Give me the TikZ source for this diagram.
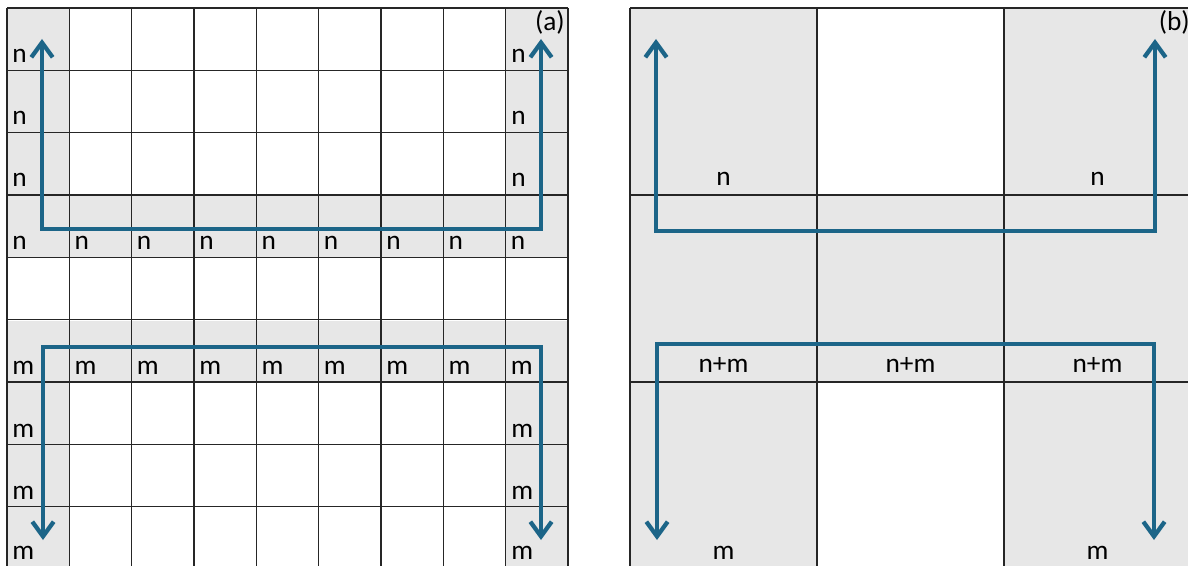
\documentclass[tikz,border=0pt]{standalone}
\usepackage{fontspec}
\setmainfont{Carlito}
\usepackage{xcolor}
\usetikzlibrary{arrows.meta,positioning,calc}
\definecolor{cellgray}{RGB}{231,231,231}
\definecolor{flowblue}{RGB}{28,101,136}

\begin{document}
\begin{tikzpicture}[x=0.75pt,y=-0.75pt,
  gridline/.style={draw=black!85,line width=1pt},
  lbl/.style={inner sep=0pt,anchor=base west,font=\fontsize{20.5}{24}\selectfont},
  mlbl/.style={inner sep=0pt,anchor=base,font=\fontsize{20.5}{24}\selectfont},
  tag/.style={inner sep=0pt,anchor=north east,font=\fontsize{20.5}{24}\selectfont},
  flow/.style={draw=flowblue,line width=3.2pt,<->},
  >={Straight Barb[length=11pt,width=16pt]}]
\useasboundingbox (0,0) rectangle (1188,566);
% (a) shaded cells
\fill[cellgray] (7,8) rectangle (69.33,257.33);
\fill[cellgray] (7,320.67) rectangle (69.33,570);
\fill[cellgray] (505.67,8) rectangle (568,257.33);
\fill[cellgray] (505.67,320.67) rectangle (568,570);
\fill[cellgray] (7,195) rectangle (568,257.33);
\fill[cellgray] (7,320.67) rectangle (568,383);
\foreach \i in {0,...,9} {
  \draw[gridline] ({7+\i*62.333},8) -- ({7+\i*62.333},570.7);
  \draw[gridline] (7,{8+\i*62.333}) -- (568,{8+\i*62.333});
}
% (a) labels
\foreach \j in {0,1,2} {
  \node[lbl] (an-l\j) at (12,{8+(\j+1)*62.333-8}) {n};
  \node[lbl] (an-r\j) at (511,{8+(\j+1)*62.333-8}) {n};
}
\foreach \i in {0,...,8} {
  \node[lbl] (an-\i) at ({12+\i*62.333},249.3) {n};
  \node[lbl] (am-\i) at ({12+\i*62.333},374.5) {m};
}
\foreach \j in {1,2} {
  \node[lbl] (am-l\j) at (12,{383+\j*62.333-8}) {m};
  \node[lbl] (am-r\j) at (511,{383+\j*62.333-8}) {m};
}
\node[lbl] (am-l3) at (12,559) {m};
\node[lbl] (am-r3) at (511,559) {m};
\node[tag] (tag-a) at (565,10) {(a)};
% (b) shaded cells
\fill[cellgray] (630,8) rectangle (817,575);
\fill[cellgray] (1004,8) rectangle (1191,575);
\fill[cellgray] (630,195) rectangle (1191,382);
\foreach \i in {0,...,3} {
  \draw[gridline] ({630+\i*187},8) -- ({630+\i*187},575);
  \draw[gridline] (630,{8+\i*187}) -- (1191,{8+\i*187});
}
% (b) labels
\node[mlbl] (bn-1) at (723.5,186) {n};
\node[mlbl] (bn-3) at (1097.5,186) {n};
\node[mlbl] (bnm-1) at (723.5,372.5) {n+m};
\node[mlbl] (bnm-2) at (910.5,372.5) {n+m};
\node[mlbl] (bnm-3) at (1097.5,372.5) {n+m};
\node[mlbl] (bm-1) at (723.5,559) {m};
\node[mlbl] (bm-3) at (1097.5,559) {m};
\node[tag] (tag-b) at (1190,10) {(b)};
% flow paths
\coordinate (a1) at (42,39);  \coordinate (a2) at (42,229);
\coordinate (a3) at (541,229); \coordinate (a4) at (541,39);
\coordinate (b1) at (43,540);  \coordinate (b2) at (43,347);
\coordinate (b3) at (541,347); \coordinate (b4) at (541,540);
\coordinate (c1) at (656,39);  \coordinate (c2) at (656,231);
\coordinate (c3) at (1155,231); \coordinate (c4) at (1155,39);
\coordinate (d1) at (657,540); \coordinate (d2) at (657,344);
\coordinate (d3) at (1154,344); \coordinate (d4) at (1154,540);
\draw[flow] (a1) -- (a2) -- (a3) -- (a4);
\draw[flow] (b1) -- (b2) -- (b3) -- (b4);
\draw[flow] (c1) -- (c2) -- (c3) -- (c4);
\draw[flow] (d1) -- (d2) -- (d3) -- (d4);
\end{tikzpicture}
\end{document}
